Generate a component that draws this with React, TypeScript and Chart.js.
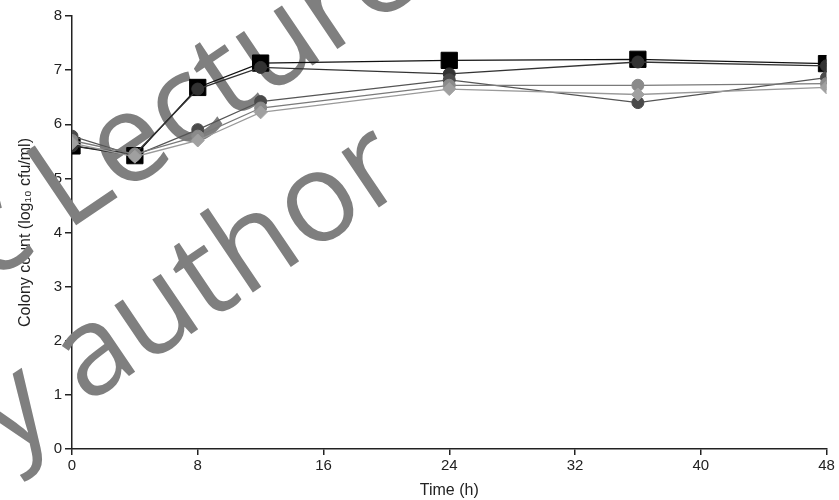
import React, { useEffect, useRef } from "react";
import { Chart, registerables } from "chart.js";

Chart.register(...registerables);

const timePoints = [0, 4, 8, 12, 24, 36, 48];
const xTicks = [0, 8, 16, 24, 32, 40, 48];
const yTicks = [0, 1, 2, 3, 4, 5, 6, 7, 8];

const seriesA = [5.6, 5.42, 6.68, 7.13, 7.18, 7.2, 7.12];
const seriesB = [5.6, 5.45, 6.65, 7.05, 6.93, 7.15, 7.08];
const seriesC = [5.78, 5.42, 5.9, 6.42, 6.82, 6.4, 6.86];
const seriesD = [5.7, 5.45, 5.78, 6.3, 6.72, 6.72, 6.75];
const seriesE = [5.65, 5.4, 5.7, 6.22, 6.65, 6.55, 6.68];

const xTitle = "Time (h)";
const yTitle = "Colony count (log\u2081\u2080 cfu/ml)";
const watermark1 = ["c ", "Lecture"];
const watermark2 = ["by ", "author"];

const toPts = (vals: number[]) => timePoints.map((t, i) => ({ x: t, y: vals[i] }));

const watermarkPlugin = {
  id: "watermark",
  beforeDatasetsDraw(chart: any) {
    const ctx = chart.ctx as CanvasRenderingContext2D;
    ctx.save();
    ctx.fillStyle = "#7f7f7f";
    ctx.font = '125px "Open Sans"';
    ctx.textBaseline = "alphabetic";
    const ang = (-34 * Math.PI) / 180;
    const draw = (ax: number, ay: number, parts: string[]) => {
      ctx.save();
      ctx.translate(ax, ay);
      ctx.rotate(ang);
      ctx.textAlign = "right";
      ctx.fillText(parts[0], 0, 0);
      ctx.textAlign = "left";
      ctx.fillText(parts[1], 0, 0);
      ctx.restore();
    };
    draw(66, 232, watermark1);
    draw(86, 405, watermark2);
    ctx.restore();
  },
};

export default function App() {
  const ref = useRef<HTMLCanvasElement>(null);
  useEffect(() => {
    if (!ref.current) return;
    const font = { family: '"Liberation Sans", Arial, sans-serif', size: 15 };
    const titleFont = { family: '"Liberation Sans", Arial, sans-serif', size: 16 };
    const axisColor = "#222";
    const mk = (label: string, vals: number[], color: string, line: string, style: any, r: number) => ({
      label,
      data: toPts(vals),
      borderColor: line,
      backgroundColor: color,
      pointBackgroundColor: color,
      pointBorderColor: color,
      pointStyle: style,
      pointRadius: r,
      pointBorderWidth: 1,
      borderWidth: 1.3,
      tension: 0,
    });
    const chart = new Chart(ref.current, {
      type: "line",
      data: {
        datasets: [
          mk("E", seriesE, "#a0a0a0", "#9a9a9a", "rectRot", 6.5),
          mk("D", seriesD, "#8a8a8a", "#7a7a7a", "circle", 6),
          mk("C", seriesC, "#4a4a4a", "#555", "circle", 6),
          mk("B", seriesB, "#333", "#333", "circle", 6),
          mk("A", seriesA, "#000", "#111", "rect", 11.5),
        ],
      },
      options: {
        responsive: false,
        animation: false,
        layout: { padding: { top: 16, right: 10, left: 0, bottom: 0 } },
        plugins: { legend: { display: false }, tooltip: { enabled: false } },
        scales: {
          x: {
            type: "linear",
            min: 0,
            max: 48,
            afterBuildTicks: (s: any) => {
              s.ticks = xTicks.map((v) => ({ value: v }));
            },
            afterFit: (s: any) => {
              s.height = 51;
            },
            ticks: { font, color: "#222", padding: 2, maxRotation: 0 },
            grid: { drawOnChartArea: false, tickLength: 6, color: axisColor, lineWidth: 1.5 },
            border: { color: axisColor, width: 1.5 },
            title: { display: true, text: xTitle, font: titleFont, color: "#222", padding: { top: 0, bottom: 0 } },
          },
          y: {
            type: "linear",
            min: 0,
            max: 8,
            afterBuildTicks: (s: any) => {
              s.ticks = yTicks.map((v) => ({ value: v }));
            },
            afterFit: (s: any) => {
              s.width = 72;
            },
            ticks: { font, color: "#222", padding: 3 },
            grid: { drawOnChartArea: false, tickLength: 7, color: axisColor, lineWidth: 1.5 },
            border: { color: axisColor, width: 1.5 },
            title: { display: true, text: yTitle, font: titleFont, color: "#222", padding: { top: 16, bottom: 0 } },
          },
        },
      },
      plugins: [watermarkPlugin],
    });
    return () => chart.destroy();
  }, []);
  return (
    <div style={{ position: "absolute", left: 0, top: 0, width: 839, height: 500, background: "#fff" }}>
      <canvas ref={ref} width={839} height={500} style={{ display: "block" }} />
    </div>
  );
}
